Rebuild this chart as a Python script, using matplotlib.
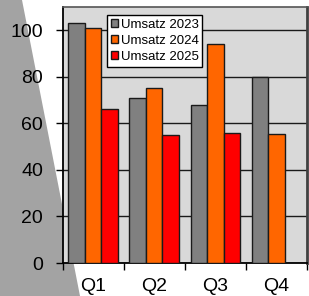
import numpy as np
import matplotlib
matplotlib.use("Agg")
import matplotlib.pyplot as plt
from matplotlib.patches import Polygon

quarters = ["Q1", "Q2", "Q3", "Q4"]
series = ["Umsatz 2023", "Umsatz 2024", "Umsatz 2025"]
umsatz_2023 = [103, 71, 68, 80]
umsatz_2024 = [101, 75, 94, 55.5]
umsatz_2025 = [66, 55, 56, np.nan]
colors = ["#808080", "#FF6600", "#FF0000"]

plt.rcParams["font.family"] = ["Liberation Sans", "DejaVu Sans"]

fig = plt.figure(figsize=(3.09, 2.96), dpi=100)
# decorative grey wedge behind the chart
fig.patches.append(Polygon([(0, 1), (22/309, 1), (80/309, 0), (0, 0)],
                           closed=True, transform=fig.transFigure,
                           facecolor="#A3A3A3", edgecolor="none", zorder=-5))

ax = fig.add_axes([62.5/309, 33/296, 244.5/309, 256/296])
ax.set_facecolor("#D9D9D9")

x = np.arange(len(quarters))
w = 0.27
for i, (vals, c, lbl) in enumerate(zip([umsatz_2023, umsatz_2024, umsatz_2025],
                                       colors, series)):
    ax.bar(x - 0.5 + 0.095 + w/2 + i*w, vals, width=w, color=c,
           edgecolor="#1a1a1a", linewidth=1, label=lbl, zorder=3)

ax.set_xlim(-0.5, 3.5)
ax.set_ylim(0, 110)
ax.set_yticks([0, 20, 40, 60, 80, 100])
ax.yaxis.grid(True, color="#1a1a1a", linewidth=1)
ax.set_axisbelow(True)
ax.tick_params(axis="y", labelsize=14, length=5, width=1, pad=9, direction="out")

ax.set_xticks(x)
ax.set_xticklabels(quarters)
ax.set_xticks(np.arange(-0.5, 3.6, 1), minor=True)
ax.tick_params(axis="x", which="major", length=0, labelsize=14, pad=11)
ax.tick_params(axis="x", which="minor", length=5, width=1, direction="out")

for s in ["left", "bottom"]:
    ax.spines[s].set_color("black")
    ax.spines[s].set_linewidth(1.3)
ax.spines["top"].set_color("#555555")
ax.spines["top"].set_linewidth(1.2)
ax.spines["right"].set_color("#404040")
ax.spines["right"].set_linewidth(2)

leg = ax.legend(loc="upper left", bbox_to_anchor=(0.181, 0.969), fontsize=9.5,
                frameon=True, fancybox=False, framealpha=1, edgecolor="black",
                handlelength=0.55, handleheight=0.55, handletextpad=0.2,
                borderpad=0.3, labelspacing=0.3, borderaxespad=0)
leg.get_frame().set_linewidth(1)

fig.savefig("out.png", dpi=100)
